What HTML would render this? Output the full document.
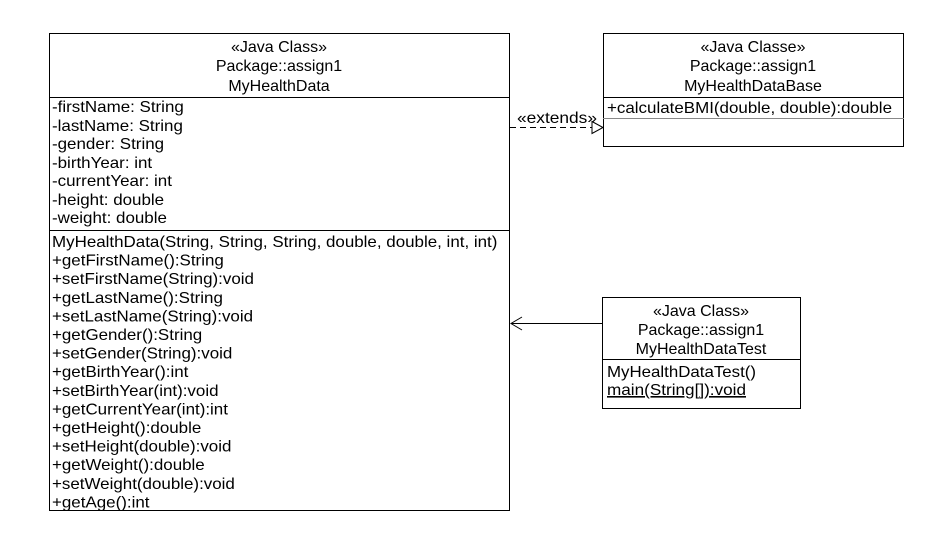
<!DOCTYPE html>
<html><head><meta charset="utf-8"><style>
html,body{margin:0;padding:0;background:#fff;}
svg{display:block;}
text{font-family:"Liberation Sans",Arial,sans-serif;font-size:16px;fill:#000;}
</style></head><body>
<svg width="949" height="534" viewBox="0 0 949 534" xmlns="http://www.w3.org/2000/svg">
<rect width="949" height="534" fill="#fff"/>
<g fill="none" stroke="#000" stroke-width="1">
<rect x="49.5" y="33.5" width="460" height="477"/>
<line x1="49" y1="97.5" x2="510" y2="97.5"/>
<line x1="49" y1="230.5" x2="510" y2="230.5"/>
<rect x="603.5" y="33.5" width="300" height="113"/>
<line x1="603" y1="97.5" x2="904" y2="97.5"/>
<line x1="603" y1="118.5" x2="904" y2="118.5" stroke="#888"/>
<rect x="602.5" y="297.5" width="198" height="111"/>
<line x1="602" y1="359.5" x2="801" y2="359.5"/>
<line x1="510" y1="127.5" x2="592" y2="127.5" stroke-dasharray="6,4"/>
<polygon points="592,121.5 603,127.5 592,133.5"/>
<line x1="511" y1="323.5" x2="602" y2="323.5"/>
<polyline points="522,317 511,323.5 522,330"/>
</g>
<g text-anchor="middle">
<text x="279" y="52">«Java Class»</text>
<text x="279" y="71">Package::assign1</text>
<text x="279" y="91">MyHealthData</text>
<text x="753" y="52">«Java Classe»</text>
<text x="753" y="71">Package::assign1</text>
<text x="753" y="91">MyHealthDataBase</text>
<text x="701" y="316">«Java Class»</text>
<text x="701" y="335">Package::assign1</text>
<text x="701" y="354">MyHealthDataTest</text>
</g>
<text x="517" y="123" textLength="80" lengthAdjust="spacingAndGlyphs">«extends»</text>
<text x="607" y="113" textLength="285" lengthAdjust="spacingAndGlyphs">+calculateBMI(double, double):double</text>
<text x="607" y="377" textLength="149" lengthAdjust="spacingAndGlyphs">MyHealthDataTest()</text>
<text x="607" y="395" textLength="139" lengthAdjust="spacingAndGlyphs" text-decoration="underline">main(String[]):void</text>
<g transform="translate(52,0) scale(1.06,1) translate(-52,0)">
<text x="52" y="112">-firstName: String</text>
<text x="52" y="131">-lastName: String</text>
<text x="52" y="149">-gender: String</text>
<text x="52" y="168">-birthYear: int</text>
<text x="52" y="186">-currentYear: int</text>
<text x="52" y="205">-height: double</text>
<text x="52" y="223">-weight: double</text>
<text x="52" y="247">MyHealthData(String, String, String, double, double, int, int)</text>
<text x="52" y="265.6">+getFirstName():String</text>
<text x="52" y="284.2">+setFirstName(String):void</text>
<text x="52" y="302.8">+getLastName():String</text>
<text x="52" y="321.4">+setLastName(String):void</text>
<text x="52" y="340">+getGender():String</text>
<text x="52" y="358.6">+setGender(String):void</text>
<text x="52" y="377.2">+getBirthYear():int</text>
<text x="52" y="395.8">+setBirthYear(int):void</text>
<text x="52" y="414.4">+getCurrentYear(int):int</text>
<text x="52" y="433">+getHeight():double</text>
<text x="52" y="451.6">+setHeight(double):void</text>
<text x="52" y="470.2">+getWeight():double</text>
<text x="52" y="488.8">+setWeight(double):void</text>
<text x="52" y="507.4">+getAge():int</text>
</g>
</svg>
</body></html>
